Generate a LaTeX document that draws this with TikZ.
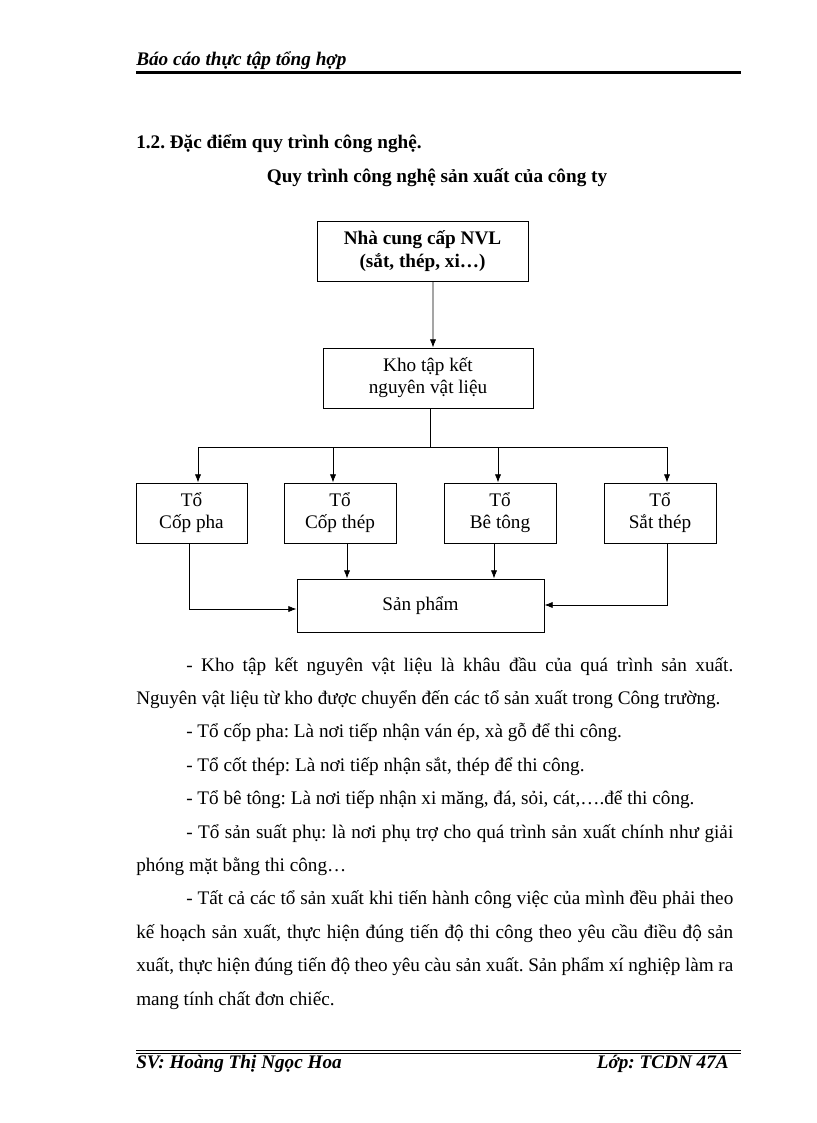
\documentclass[tikz,border=0pt]{standalone}
\usepackage{fontspec}
\setmainfont{Liberation Serif}
\usetikzlibrary{arrows.meta}
\newlength\px
\setlength\px{0.7292pt}
\frenchspacing
\begin{document}
\begin{tikzpicture}
                [x=1\px, y=-1\px,
                boxnode/.style={draw=black, line width=0.7pt, align=center, inner sep=0pt, font=\fontsize{14}{16}\selectfont},
                txt/.style={anchor=base west, inner sep=0pt, font=\fontsize{14}{16}\selectfont},
                hdrtext/.style={anchor=base west, inner sep=0pt, font=\fontsize{14}{16}\selectfont\bfseries\itshape},
                arr/.style={line width=0.6pt, -{Latex[length=6pt,width=4.6pt]}},
                link/.style={line width=0.6pt}]

                \useasboundingbox (0,0) rectangle (816,1123);

                % header and footer
                \node[hdrtext] (hd) at (136,66) {Báo cáo thực tập tổng hợp};
                \draw[line width=1.5pt] (136,72.5) -- (741,72.5);
                \draw[line width=0.6pt] (136,1050) -- (741,1050);
                \draw[line width=0.6pt] (136,1053) -- (741,1053);
                \node[hdrtext] (sv) at (136,1068) {SV: Hoàng Thị Ngọc Hoa};
                \node[hdrtext, anchor=base east] (lop) at (729,1068) {Lớp: TCDN 47A};

                \node[txt, font=\fontsize{14}{16}\selectfont\bfseries] (sec) at (136,149) {1.2. Đặc điểm quy trình công nghệ.};
                \node[txt, anchor=base, font=\fontsize{14}{16}\selectfont\bfseries] (ttl) at (437,183) {Quy trình công nghệ sản xuất của công ty};

                % diagram
                \node[boxnode, minimum width=211\px, minimum height=60\px, font=\fontsize{14}{16.5}\selectfont\bfseries] (nvl) at (422.5,251) {Nhà cung cấp NVL\\(sắt, thép, xi…)};
                \node[boxnode, minimum width=210\px, minimum height=60\px] (kho) at (428,378) {Kho tập kết\\nguyên vật liệu};
                \node[boxnode, minimum width=111\px, minimum height=60\px] (t1) at (191.5,513) {Tổ\\Cốp pha};
                \node[boxnode, minimum width=112\px, minimum height=60\px] (t2) at (340,513) {Tổ\\Cốp thép};
                \node[boxnode, minimum width=112\px, minimum height=60\px] (t3) at (500,513) {Tổ\\Bê tông};
                \node[boxnode, minimum width=112\px, minimum height=60\px] (t4) at (660,513) {Tổ\\Sắt thép};
                \node[boxnode, minimum width=247\px, minimum height=53\px] (sp) at (420.5,605.5) {Sản phẩm};
                \coordinate (br) at (430,447);

                \draw[arr] ([xshift=10.5\px]nvl.south) -- ([xshift=5\px]kho.north);
                \draw[link] ([xshift=2\px]kho.south) -- (br);
                \draw[arr] (br) -| ([xshift=6.5\px]t1.north);
                \draw[arr] (br) -| ([xshift=-7\px]t2.north);
                \draw[arr] (br) -| ([xshift=-2\px]t3.north);
                \draw[arr] (br) -| ([xshift=7\px]t4.north);
                \draw[arr] ([xshift=-2.5\px]t1.south) |- ([yshift=-3.5\px]sp.west);
                \draw[arr] ([xshift=7\px]t2.south) -- ([xshift=7\px]t2.south |- sp.north);
                \draw[arr] ([xshift=-6\px]t3.south) -- ([xshift=-6\px]t3.south |- sp.north);
                \draw[arr] ([xshift=7\px]t4.south) |- ([yshift=0.5\px]sp.east);

                % text below
                \node[txt] (p1) at (186,671) {\makebox[547\px][s]{- Kho tập kết nguyên vật liệu là khâu đầu của quá trình sản xuất.}};
                \node[txt] (p2) at (136,704.4) {Nguyên vật liệu từ kho được chuyển đến các tổ sản xuất trong Công trường.};
                \node[txt] (p3) at (186,737.8) {- Tổ cốp pha: Là nơi tiếp nhận ván ép, xà gỗ để thi công.};
                \node[txt] (p4) at (186,771.2) {- Tổ cốt thép: Là nơi tiếp nhận sắt, thép để thi công.};
                \node[txt] (p5) at (186,804.6) {- Tổ bê tông: Là nơi tiếp nhận xi măng, đá, sỏi, cát,….để thi công.};
                \node[txt] (p6) at (186,838) {\makebox[547\px][s]{- Tổ sản suất phụ: là nơi phụ trợ cho quá trình sản xuất chính như giải}};
                \node[txt] (p7) at (136,871.4) {phóng mặt bằng thi công…};
                \node[txt] (p8) at (186,904.8) {\makebox[547\px][s]{- Tất cả các tổ sản xuất khi tiến hành công việc của mình đều phải theo}};
                \node[txt] (p9) at (136,938.2) {\makebox[597\px][s]{kế hoạch sản xuất, thực hiện đúng tiến độ thi công theo yêu cầu điều độ sản}};
                \node[txt] (p10) at (136,971.6) {\makebox[597\px][s]{xuất, thực hiện đúng tiến độ theo yêu càu sản xuất. Sản phẩm xí nghiệp làm ra}};
                \node[txt] (p11) at (136,1005) {mang tính chất đơn chiếc.};

\end{tikzpicture}
\end{document}
